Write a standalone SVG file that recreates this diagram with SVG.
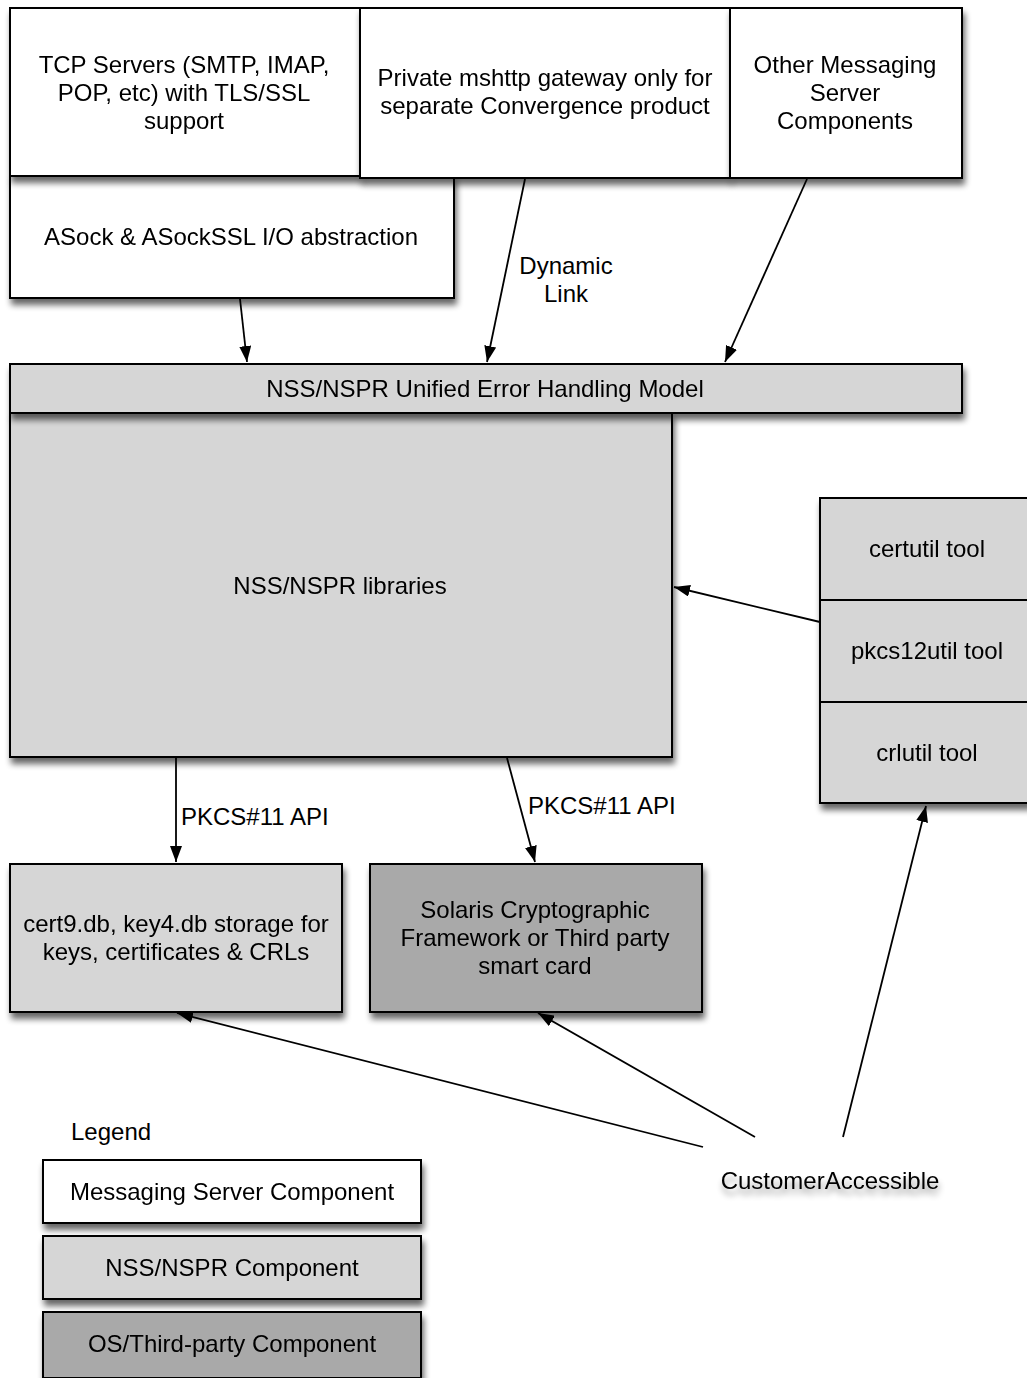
<svg xmlns="http://www.w3.org/2000/svg" width="1027" height="1378" viewBox="0 0 1027 1378">
<style>
text{font-family:"Liberation Sans",Arial,sans-serif;font-size:24px;fill:#000;text-anchor:middle}
.b{stroke:#000;stroke-width:2}
.w{fill:#fff}
.g{fill:#d6d6d6}
.d{fill:#a9a9a9}
.c{stroke:#000;stroke-width:1.8;fill:none;marker-end:url(#ah)}
.l{text-anchor:start}
</style>
<defs>
<filter id="sh" x="-10%" y="-10%" width="125%" height="140%">
<feGaussianBlur in="SourceAlpha" stdDeviation="3"/>
<feOffset dx="2" dy="6" result="o"/>
<feComponentTransfer><feFuncA type="linear" slope="0.6"/></feComponentTransfer>
<feMerge><feMergeNode/><feMergeNode in="SourceGraphic"/></feMerge>
</filter>
<filter id="tsh" x="-10%" y="-50%" width="120%" height="250%">
<feGaussianBlur in="SourceAlpha" stdDeviation="3"/>
<feOffset dx="1" dy="6"/>
<feComponentTransfer><feFuncA type="linear" slope="0.4"/></feComponentTransfer>
<feMerge><feMergeNode/><feMergeNode in="SourceGraphic"/></feMerge>
</filter>
<marker id="ah" viewBox="0 0 16 12" refX="16" refY="6" markerWidth="16" markerHeight="12" markerUnits="userSpaceOnUse" orient="auto">
<path d="M0,0 L16,6 L0,12 z" fill="#000"/>
</marker>
</defs>

<g id="asock" filter="url(#sh)">
<rect class="b w" x="10" y="176" width="444" height="122"/>
<text x="231" y="245">ASock &amp; ASockSSL I/O abstraction</text>
</g>
<g id="tcp" filter="url(#sh)">
<rect class="b w" x="10" y="8" width="350" height="168"/>
<text x="184" y="73">TCP Servers (SMTP, IMAP,</text>
<text x="184" y="101">POP, etc) with TLS/SSL</text>
<text x="184" y="129">support</text>
</g>
<g id="mshttp" filter="url(#sh)">
<rect class="b w" x="360" y="8" width="370" height="170"/>
<text x="545" y="86">Private mshttp gateway only for</text>
<text x="545" y="114">separate Convergence product</text>
</g>
<g id="other" filter="url(#sh)">
<rect class="b w" x="730" y="8" width="232" height="170"/>
<text x="845" y="73">Other Messaging</text>
<text x="845" y="101">Server</text>
<text x="845" y="129">Components</text>
</g>

<g id="libs" filter="url(#sh)">
<rect class="b g" x="10" y="413" width="662" height="344"/>
<text x="340" y="594">NSS/NSPR libraries</text>
</g>
<g id="errmodel" filter="url(#sh)">
<rect class="b g" x="10" y="364" width="952" height="49"/>
<text x="485" y="397">NSS/NSPR Unified Error Handling Model</text>
</g>

<g id="tools" filter="url(#sh)">
<rect class="b g" x="820" y="498" width="210" height="305"/>
<line class="b" x1="820" y1="600" x2="1030" y2="600"/>
<line class="b" x1="820" y1="702" x2="1030" y2="702"/>
<text x="927" y="557">certutil tool</text>
<text x="927" y="659">pkcs12util tool</text>
<text x="927" y="761">crlutil tool</text>
</g>

<g id="certdb" filter="url(#sh)">
<rect class="b g" x="10" y="864" width="332" height="148"/>
<text x="176" y="932">cert9.db, key4.db storage for</text>
<text x="176" y="960">keys, certificates &amp; CRLs</text>
</g>
<g id="solaris" filter="url(#sh)">
<rect class="b d" x="370" y="864" width="332" height="148"/>
<text x="535" y="918">Solaris Cryptographic</text>
<text x="535" y="946">Framework or Third party</text>
<text x="535" y="974">smart card</text>
</g>

<g id="customer" filter="url(#tsh)">
<text x="830" y="1189">CustomerAccessible</text>
</g>

<g id="legend">
<text class="l" x="71" y="1140">Legend</text>
<g filter="url(#sh)">
<rect class="b w" x="43" y="1160" width="378" height="63"/>
<text x="232" y="1200">Messaging Server Component</text>
</g>
<g filter="url(#sh)">
<rect class="b g" x="43" y="1236" width="378" height="63"/>
<text x="232" y="1276">NSS/NSPR Component</text>
</g>
<g filter="url(#sh)">
<rect class="b d" x="43" y="1312" width="378" height="66"/>
<text x="232" y="1352">OS/Third-party Component</text>
</g>
</g>

<g id="connectors">
<line class="c" x1="240" y1="299" x2="247" y2="362"/>
<line class="c" x1="525" y1="179" x2="487" y2="362"/>
<line class="c" x1="807" y1="179" x2="725" y2="362"/>
<line class="c" x1="820" y1="622" x2="674" y2="587"/>
<line class="c" x1="176" y1="758" x2="176" y2="862"/>
<line class="c" x1="507" y1="758" x2="535" y2="862"/>
<line class="c" x1="703" y1="1147" x2="177" y2="1013"/>
<line class="c" x1="755" y1="1137" x2="538" y2="1013"/>
<line class="c" x1="843" y1="1137" x2="926" y2="806"/>
<text x="566" y="274">Dynamic</text>
<text x="566" y="302">Link</text>
<text class="l" x="181" y="825">PKCS#11 API</text>
<text class="l" x="528" y="814">PKCS#11 API</text>
</g>
</svg>
